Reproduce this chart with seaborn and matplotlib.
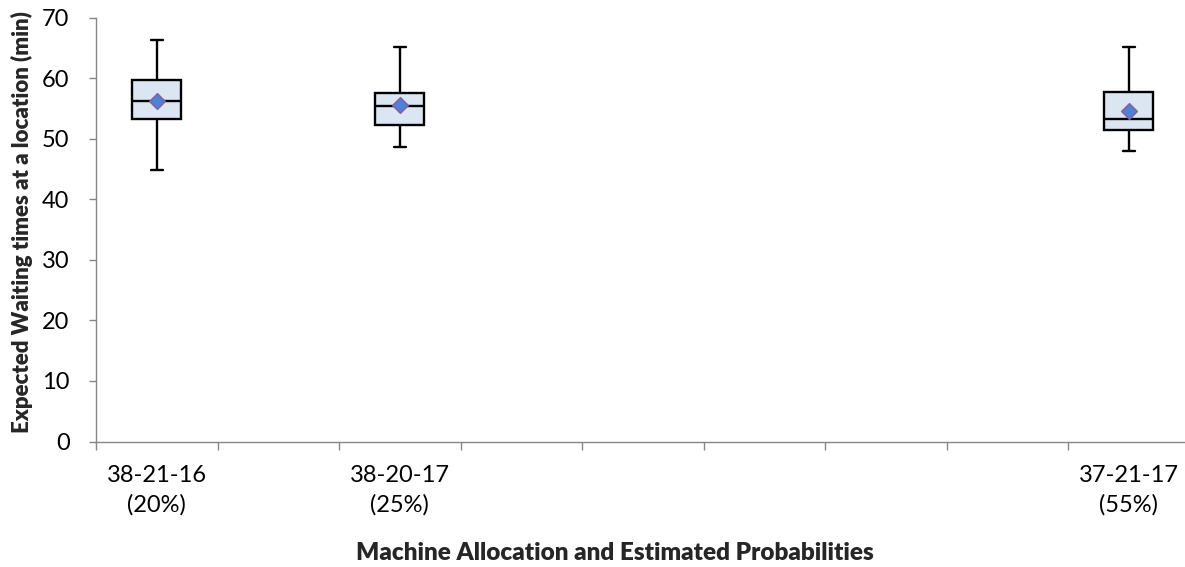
import numpy as np
import pandas as pd
import matplotlib
matplotlib.use("Agg")
import matplotlib.pyplot as plt
import seaborn as sns

# ---- data ----
allocations = ["38-21-16", "38-20-17", "37-21-17"]
probabilities = ["20%", "25%", "55%"]
# the x axis has 9 category slots; only three carry data
axis_slots = ["38-21-16", "e1", "38-20-17", "e2", "e3", "e4", "e5", "e6", "37-21-17"]

minimum = [44.9, 48.7, 48.0]
q1 = [53.2, 52.3, 51.4]
median = [56.2, 55.4, 53.2]
q3 = [59.7, 57.6, 57.7]
maximum = [66.3, 65.1, 65.1]
mean = [56.2, 55.5, 54.6]

y_ticks = [0, 10, 20, 30, 40, 50, 60, 70]

# five-number rows: with 5 values the 25/50/75 percentiles are exactly q1/median/q3
rows = []
for i, a in enumerate(allocations):
    for v in (minimum[i], q1[i], median[i], q3[i], maximum[i]):
        rows.append({"alloc": a, "value": v})
df = pd.DataFrame(rows)
df_mean = pd.DataFrame({"alloc": allocations, "value": mean})

sns.set_style("white")
plt.rcParams["font.family"] = ["Lato", "DejaVu Sans"]

fig = plt.figure(figsize=(11.85, 5.67), dpi=100)
ax = fig.add_axes([96 / 1185, 125.5 / 567, (1189.5 - 96) / 1185, 424 / 567])

sns.boxplot(data=df, x="alloc", y="value", order=axis_slots, ax=ax,
            whis=(0, 100), width=0.4, color="#dce6f2", linecolor="black",
            linewidth=1.7, saturation=1, capwidths=0.1, showfliers=False)

sns.scatterplot(data=df_mean, x="alloc", y="value", ax=ax, marker="D",
                s=62, color="#4f81d6", edgecolor="#8064a2", linewidth=1.2,
                zorder=5, legend=False)

ax.set_xlim(-0.5, len(axis_slots) - 0.5)
ax.set_ylim(0, 70)
ax.set_yticks(y_ticks)
ax.set_yticklabels([str(t) for t in y_ticks])

# major ticks at slot boundaries, labels on minor ticks at slot centres
ax.set_xticks(np.arange(len(axis_slots) + 1) - 0.5)
ax.set_xticklabels([])
labels = []
for s in axis_slots:
    if s in allocations:
        labels.append(f"{s}\n({probabilities[allocations.index(s)]})")
    else:
        labels.append("")
ax.set_xticks(np.arange(len(axis_slots)), minor=True)
ax.set_xticklabels(labels, minor=True, fontsize=17, linespacing=1.45)

ax.tick_params(axis="x", which="major", length=6, width=1, color="#868686",
               direction="out", bottom=True)
ax.tick_params(axis="x", which="minor", length=0, pad=17, labelsize=17,
               labelcolor="black")
ax.tick_params(axis="y", length=5, width=1, color="#868686", direction="out",
               left=True, pad=14, labelsize=17, labelcolor="black")

for side in ("top", "right"):
    ax.spines[side].set_visible(False)
for side in ("left", "bottom"):
    ax.spines[side].set_color("#868686")
    ax.spines[side].set_linewidth(1.0)

ax.set_xlabel("")
ax.set_ylabel("")
fig.text(615 / 1185, 1 - 553 / 567, "Machine Allocation and Estimated Probabilities",
         ha="center", va="center", fontsize=17.5, fontweight="heavy")
fig.text(22 / 1185, 1 - 222 / 567, "Expected Waiting times at a location (min)",
         ha="center", va="center", rotation=90, fontsize=16, fontweight="heavy")

fig.savefig("out.png", dpi=100, facecolor="white")
